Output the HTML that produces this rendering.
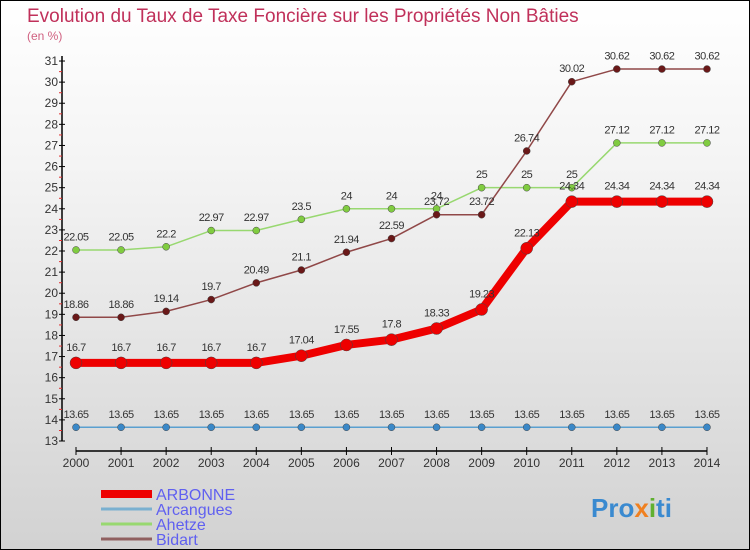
<!DOCTYPE html>
<html><head><meta charset="utf-8"><style>
body{margin:0}
#c{position:relative;width:748px;height:548px;border:1px solid #000;background:linear-gradient(#ffffff,#f4f4f4 30%,#d2d2d2);overflow:hidden;font-family:"Liberation Sans",sans-serif}
svg{position:absolute;left:0;top:0}
</style></head><body>
<div id="c">
<svg id="s" width="750" height="550">
<text x="26" y="21" font-size="19" fill="#c0305a">Evolution du Taux de Taxe Foncière sur les Propriétés Non Bâties</text>
<text x="26" y="39" font-size="12" fill="#d06080">(en %)</text>
<text x="590" y="516" font-size="26" font-weight="bold" fill="#3a8ad0">Pro<tspan fill="#f08020">x</tspan><tspan fill="#60b030">i</tspan>ti</text>
</svg>
</div>
<script>
const years=[2000,2001,2002,2003,2004,2005,2006,2007,2008,2009,2010,2011,2012,2013,2014];
const arbonne=[16.7,16.7,16.7,16.7,16.7,17.04,17.55,17.8,18.33,19.23,22.13,24.34,24.34,24.34,24.34];
const arcangues=[13.65,13.65,13.65,13.65,13.65,13.65,13.65,13.65,13.65,13.65,13.65,13.65,13.65,13.65,13.65];
const ahetze=[22.05,22.05,22.2,22.97,22.97,23.5,24,24,24,25,25,25,27.12,27.12,27.12];
const bidart=[18.86,18.86,19.14,19.7,20.49,21.1,21.94,22.59,23.72,23.72,26.74,30.02,30.62,30.62,30.62];
const yTicks=[13,14,15,16,17,18,19,20,21,22,23,24,25,26,27,28,29,30,31];
const NS="http://www.w3.org/2000/svg",s=document.getElementById('s');
const X=i=>75+i*45.07, Y=v=>440-(v-13)*21.11;
function mk(t,a,p){const e=document.createElementNS(NS,t);for(const k in a)e.setAttribute(k,a[k]);(p||s).appendChild(e);return e;}
let e;
e=mk('line',{x1:61,y1:55,x2:61,y2:440,stroke:'#000','stroke-width':1.5});


e=mk('line',{x1:75,y1:450,x2:706,y2:450,stroke:'#000','stroke-width':1.5});


yTicks.forEach(v=>{const y=Y(v);
mk('line',{x1:58,y1:y,x2:64,y2:y,stroke:'#000'});
if(v<31)mk('line',{x1:58,y1:y-10.5,x2:61,y2:y-10.5,stroke:'#e03030'});
e=mk('text',{x:57,y:y+4,'font-size':12,fill:'#333','text-anchor':'end'});e.textContent=v;

});
years.forEach((yr,i)=>{mk('line',{x1:X(i),y1:446,x2:X(i),y2:454,stroke:'#000'});
e=mk('text',{x:X(i),y:466,'font-size':12,fill:'#333','text-anchor':'middle'});e.textContent=yr;

});
function series(d,col,w,r,name,dot){
const pts=d.map((v,i)=>X(i)+','+Y(v)).join(' ');
e=mk('polyline',{points:pts,fill:'none',stroke:col,'stroke-width':w,'stroke-linejoin':'round'});


d.forEach((v,i)=>{e=mk('circle',{cx:X(i),cy:Y(v),r:r,fill:dot,stroke:'#444','stroke-width':0.5});


e=mk('text',{x:X(i),y:Y(v)-r-6,'font-size':11,fill:'#333','text-anchor':'middle','letter-spacing':'-0.5'});e.textContent=v;

});}
series(arcangues,'#5aa0d0',1.5,3.5,'arcangues','#3a88c8');
series(ahetze,'#98d870',1.5,3.5,'ahetze','#80cc40');
series(bidart,'#904848',1.5,3.5,'bidart','#6a1818');
series(arbonne,'#ee0000',8,6,'arbonne','#ee0000');
const leg=[['ARBONNE','#ee0000',8],['Arcangues','#7ab0d0',3],['Ahetze','#98d870',3],['Bidart','#906060',3]];
leg.forEach((l,i)=>{const y=493+i*15;
e=mk('line',{x1:100,y1:y,x2:151,y2:y,stroke:l[1],'stroke-width':l[2]});


e=mk('text',{x:155,y:y+6,'font-size':16,fill:'#6060f0'});e.textContent=l[0];

});
</script>
</body></html>
